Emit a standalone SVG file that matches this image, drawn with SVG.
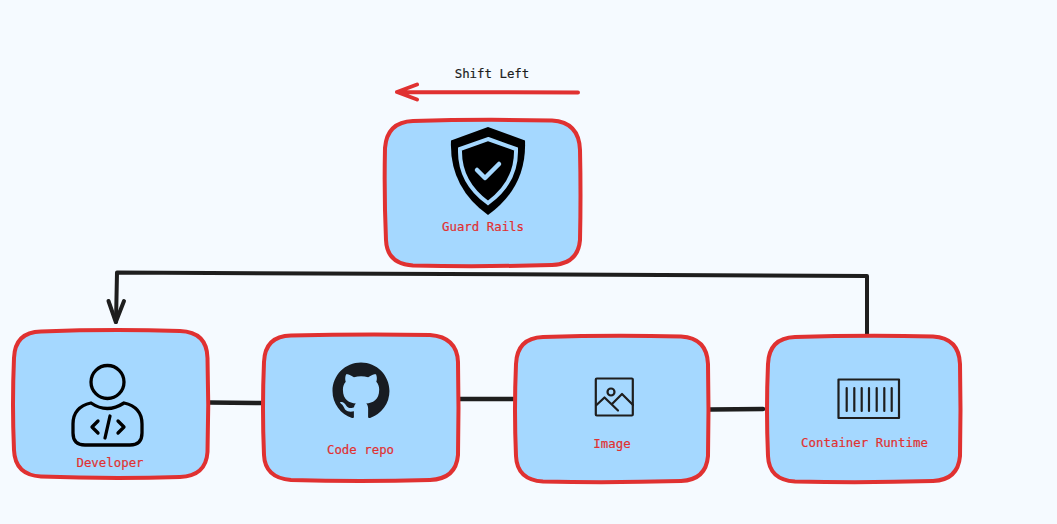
<svg xmlns="http://www.w3.org/2000/svg" width="1057" height="524" viewBox="0 0 1057 524">
<defs><style>
.box{fill:#a5d8ff;stroke:#e03131;stroke-width:4;stroke-linejoin:round}
.lab{font-family:"DejaVu Sans Mono","Liberation Mono",monospace;font-size:12.4px;fill:#e03131;text-anchor:middle;stroke:#e03131;stroke-width:.2}
.cap{fill:#1e1e1e;stroke:#1e1e1e}
.con{fill:none;stroke:#1e1e1e;stroke-width:4;stroke-linecap:round;stroke-linejoin:round}
.ico{fill:none;stroke:#000;stroke-width:3.300;stroke-linecap:round;stroke-linejoin:round}
.ico2{fill:none;stroke:#1e1e1e;stroke-width:2.200;stroke-linecap:round;stroke-linejoin:round}
.red{fill:none;stroke:#e03131;stroke-width:4;stroke-linecap:round;stroke-linejoin:round}
</style></defs>
<rect width="1057" height="524" fill="#f5faff"/>
<g id="connectors">
<path class="con" d="M867 336 L867 276 L117 272.500 L116 322"/>
<path class="con" d="M108.500 301 L115.800 322 L124 301"/>
<path class="con" style="stroke-width:4.500" d="M209 402.500 L263 403"/>
<path class="con" style="stroke-width:4.500" d="M459 399 L513 399"/>
<path class="con" style="stroke-width:4.500" d="M710 409.500 L763 409"/>
</g>
<g id="shift-left">
<path class="red" d="M578 92.500 Q480 92 397 92 M417 84.500 L397 92 L417 99.500"/>
<text class="lab cap" x="492" y="78">Shift Left</text>
</g>
<g id="guard-rails">
<path class="box" d="M413 121 Q480 119 552 120.500 Q579 122 580 150 Q581 195 580 240 Q578 264 552 265 Q480 267 413 265.500 Q387 264 386 240 Q384 195 385 148 Q387 122 413 121Z"/>
<path d="M488 127 L525 140.500 Q527 187 488 215 Q449 187 451 140.500Z" fill="#000"/>
<path d="M488 139 L516 149 Q517 182 488 203 Q459 182 460 149Z" fill="none" stroke="#a5d8ff" stroke-width="4"/>
<path d="M477 170 L485 178 L499 164" fill="none" stroke="#a5d8ff" stroke-width="4.500" stroke-linecap="round" stroke-linejoin="round"/>
<text class="lab" x="483" y="231">Guard Rails</text>
</g>
<g id="developer">
<path class="box" d="M41 331.500 Q110 329 180 331 Q207 332 207.500 358 Q209 405 207.500 452 Q206 476 180 477 Q110 479 41 476.500 Q15 475 14 450 Q12 405 14 358 Q15 332 41 331.500Z"/>
<circle class="ico" cx="107.500" cy="382" r="16.500"/>
<path class="ico" d="M91 403 Q107 414 124 403 Q142 407 142 424 L142 433 Q142 445 130 445 L85 445 Q73 445 73 433 L73 424 Q73 407 91 403Z"/>
<path class="ico" d="M98 421 L92 427 L98 433 M118 421 L124 427 L118 433 M110 416 L105 438"/>
<text class="lab" x="110" y="467">Developer</text>
</g>
<g id="code-repo">
<path class="box" d="M291 335.500 Q360 334 430 335 Q457 337 458 362 Q459 408 458 455 Q456 479 430 480 Q360 482 291 480 Q265 478 264 455 Q262 408 264 362 Q265 336 291 335.500Z"/>
<path transform="translate(332.500 362.500) scale(3.560)" fill="#181c22" d="M8 0C3.580 0 0 3.580 0 8c0 3.540 2.290 6.530 5.470 7.590.4.070.55-.17.55-.38 0-.19-.01-.82-.01-1.490-2.010.37-2.530-.49-2.690-.94-.09-.23-.48-.94-.82-1.130-.28-.15-.68-.52-.01-.53.63-.01 1.080.58 1.230.82.72 1.210 1.870.87 2.330.66.070-.52.28-.87.51-1.070-1.780-.2-3.640-.89-3.640-3.950 0-.87.31-1.590.82-2.150-.08-.2-.36-1.020.08-2.120 0 0 .67-.21 2.200.82.64-.18 1.320-.27 2-.27.68 0 1.360.09 2 .27 1.530-1.040 2.200-.82 2.200-.82.44 1.100.16 1.920.08 2.120.51.56.82 1.270.82 2.150 0 3.070-1.870 3.750-3.650 3.950.29.25.54.73.54 1.480 0 1.070-.01 1.930-.01 2.200 0 .21.15.46.55.38A8.013 8.013 0 0016 8c0-4.420-3.580-8-8-8z"/>
<text class="lab" x="360.500" y="454">Code repo</text>
</g>
<g id="image">
<path class="box" d="M543 337 Q610 335 681 336.500 Q707 338 708 364 Q709 410 708 456 Q706 480 681 481 Q610 483 543 481.500 Q517 480 516 456 Q514 410 516 364 Q517 338 543 337Z"/>
<rect class="ico2" x="595.800" y="378.500" width="37" height="37" rx="1"/>
<circle class="ico2" cx="611" cy="392" r="3.500"/>
<path class="ico2" d="M596.500 405 L604.500 397.500 L618 410.500 M612 404 L622 394 L633 405"/>
<text class="lab" x="612" y="448">Image</text>
</g>
<g id="container-runtime">
<path class="box" d="M795 337 Q865 335 933 336.500 Q959 338 960 364 Q961 410 960 456 Q958 480 933 481 Q865 483 795 481.500 Q769 480 768 456 Q766 410 768 364 Q769 338 795 337Z"/>
<rect class="ico2" x="838.500" y="379.500" width="60.500" height="38.500"/>
<path class="ico2" d="M846.700 388V411M854.300 388V411M861.700 388V411M869 388V411M876.700 388V411M884.300 388V411M891.700 388V411"/>
<text class="lab" x="864.500" y="447">Container Runtime</text>
</g>
</svg>
